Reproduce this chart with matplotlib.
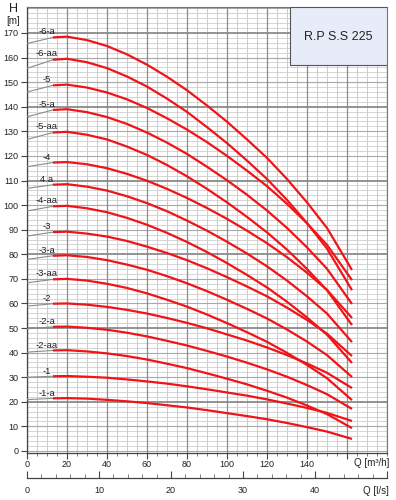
import matplotlib
matplotlib.use("Agg")
import matplotlib.pyplot as plt
from matplotlib.patches import Rectangle
from matplotlib.ticker import MultipleLocator

plt.rcParams["font.family"] = ["Liberation Sans", "DejaVu Sans"]

# flow points (m3/h); first segment (0 -> 13) is drawn grey, rest red
Q = [0, 13, 20, 30, 40, 50, 60, 70, 80, 90, 100, 110, 120, 130, 140, 150, 162.5]

LABELS = ["-6-a", "-6-aa", "-5", "-5-a", "-5-aa", "-4", "4 a", "-4-aa",
          "-3", "-3-a", "-3-aa", "-2", "-2-a", "-2-aa", "-1", "-1-a"]

H_6a  = [165.7, 168.2, 168.5, 167.1, 164.7, 161.3, 157.1, 152.2, 146.7, 140.5, 133.9, 126.7, 119.2, 110.6, 101.1, 90.7, 73.6]
H_6aa = [155.6, 159.1, 159.5, 158.1, 155.7, 152.3, 148.2, 143.3, 137.9, 131.7, 125.2, 118.1, 110.6, 102.1, 92.7, 82.3, 65.4]
H_5   = [146.0, 148.7, 149.0, 147.8, 145.8, 143.0, 139.5, 135.3, 130.7, 125.6, 120.0, 114.0, 107.7, 100.5, 92.6, 83.8, 69.5]
H_5a  = [135.9, 138.7, 139.0, 137.8, 135.8, 133.0, 129.5, 125.4, 120.8, 115.6, 110.1, 104.2, 97.8, 90.7, 82.8, 74.1, 59.8]
H_5aa = [126.7, 129.5, 129.8, 128.6, 126.7, 123.8, 120.4, 116.3, 111.7, 106.6, 101.1, 95.2, 88.9, 81.9, 74.0, 65.4, 51.2]
H_4   = [115.6, 117.3, 117.5, 116.6, 115.0, 112.7, 109.9, 106.6, 102.9, 98.8, 94.4, 89.6, 84.5, 78.8, 72.5, 65.5, 54.1]
H_4a  = [106.8, 108.3, 108.5, 107.5, 105.9, 103.6, 100.8, 97.5, 93.7, 89.6, 85.1, 80.3, 75.1, 69.3, 62.9, 55.9, 44.3]
H_4aa = [97.6, 99.5, 99.7, 98.7, 97.1, 94.8, 92.0, 88.7, 85.0, 80.9, 76.4, 71.6, 66.5, 60.7, 54.3, 47.3, 35.8]
H_3   = [87.4, 89.0, 89.2, 88.4, 87.2, 85.4, 83.1, 80.5, 77.6, 74.3, 70.7, 66.9, 62.9, 58.3, 53.3, 47.7, 38.6]
H_3a  = [77.9, 79.4, 79.6, 78.9, 77.6, 75.8, 73.7, 71.1, 68.2, 65.0, 61.5, 57.8, 53.9, 49.4, 44.5, 39.0, 30.1]
H_3aa = [68.4, 69.8, 70.0, 69.3, 68.0, 66.3, 64.1, 61.5, 58.7, 55.5, 52.0, 48.3, 44.4, 39.9, 35.0, 29.6, 20.7]
H_2   = [58.9, 59.9, 60.0, 59.5, 58.6, 57.4, 55.9, 54.1, 52.1, 49.9, 47.4, 44.9, 42.1, 39.0, 35.6, 31.8, 25.6]
H_2a  = [49.7, 50.5, 50.6, 50.1, 49.3, 48.1, 46.6, 44.8, 42.9, 40.7, 38.4, 35.9, 33.2, 30.2, 26.8, 23.1, 17.1]
H_2aa = [40.2, 40.9, 41.0, 40.5, 39.7, 38.6, 37.2, 35.5, 33.7, 31.6, 29.4, 27.1, 24.5, 21.7, 18.5, 15.0, 9.3]
H_1   = [30.0, 30.4, 30.5, 30.2, 29.8, 29.1, 28.3, 27.4, 26.3, 25.1, 23.8, 22.5, 21.0, 19.3, 17.5, 15.5, 12.2]
H_1a  = [20.9, 21.4, 21.5, 21.3, 20.8, 20.2, 19.5, 18.6, 17.7, 16.6, 15.4, 14.2, 12.9, 11.4, 9.7, 7.9, 4.9]

CURVES = [H_6a, H_6aa, H_5, H_5a, H_5aa, H_4, H_4a, H_4aa,
          H_3, H_3a, H_3aa, H_2, H_2a, H_2aa, H_1, H_1a]
PEAKS = [max(h) for h in CURVES]

MODEL = "R.P S.S 225"
QX_TICKS = [0, 20, 40, 60, 80, 100, 120, 140, 160]
QX_LABELS = ["0", "20", "40", "60", "80", "100", "120", "140", ""]
LS_TICKS = [0, 10, 20, 30, 40, 50]
LS_LABELS = ["0", "10", "20", "30", "40", ""]

W, H = 396, 500
fig = plt.figure(figsize=(W / 100, H / 100), dpi=100)
fig.patch.set_facecolor("white")

# main chart: x pixel 27..387 for 0..180, y pixel 451 = 0 m, 2.459 px/m
ylo, yhi = -1.0, 180.5
px_per_m = 2.459
bot_px = 451 + (0 - ylo) * px_per_m
top_px = 451 - yhi * px_per_m
ax = fig.add_axes([27 / W, 1 - bot_px / H, 360 / W, (bot_px - top_px) / H])
ax.set_xlim(0, 180)
ax.set_ylim(ylo, yhi)

# grid
for x in range(0, 181, 5):
    if x % 20 == 0:
        ax.axvline(x, color="#8c8c8c", lw=0.9, zorder=1)
    else:
        ax.axvline(x, color="#c4c4c4", lw=0.6, zorder=0.5)
for y in range(0, 181, 2):
    if y % 30 == 20:
        ax.axhline(y, color="#8a8a8a", lw=1.3, zorder=1)
    elif y % 10 == 0:
        ax.axhline(y, color="#a8a8a8", lw=0.8, zorder=0.8)
    else:
        ax.axhline(y, color="#cfcfcf", lw=0.6, zorder=0.5)

# curves
for lab, h, pk in zip(LABELS, CURVES, PEAKS):
    ax.plot(Q[:2], h[:2], color="#8a8a8a", lw=0.8, zorder=3)
    ax.plot(Q[1:], h[1:], color="#f01418", lw=1.6, zorder=4,
            solid_capstyle="butt")
    ax.text(10, pk + 2.0, lab, fontsize=6.8, ha="center", va="center",
            color="#222222", zorder=5)

# model box
ax.add_patch(Rectangle((131.5, 157), 48.5, 23.5, facecolor="#e8ecf8",
                       edgecolor="#555555", lw=0.8, zorder=6))
ax.text(155.5, 168.5, MODEL, fontsize=9, ha="center", va="center",
        color="#222222", zorder=7)

for s in ["top", "right"]:
    ax.spines[s].set_color("#777777")
    ax.spines[s].set_linewidth(0.8)
for s in ["left", "bottom"]:
    ax.spines[s].set_color("#444444")
    ax.spines[s].set_linewidth(0.9)

ax.set_xticks(QX_TICKS)
ax.set_xticklabels(QX_LABELS)
ax.xaxis.set_minor_locator(MultipleLocator(5))
ax.set_yticks(range(0, 171, 10))
ax.tick_params(axis="x", which="major", length=4, width=0.8, color="#444444",
               labelsize=6.5, pad=1, labelcolor="#222222")
ax.tick_params(axis="x", which="minor", length=2.5, width=0.6, color="#666666")
ax.tick_params(axis="y", which="major", length=4, width=0.8, color="#444444",
               labelsize=6.5, pad=2, labelcolor="#222222")

fig.text(13 / W, 1 - 9 / H, "H", fontsize=9, ha="center", va="center",
         color="#222222")
fig.text(13 / W, 1 - 21 / H, "[m]", fontsize=7, ha="center", va="center",
         color="#222222")
fig.text(389 / W, 1 - 463 / H, "Q [m³/h]", fontsize=7, ha="right",
         va="center", color="#222222")

# secondary flow scale in l/s
ax2 = fig.add_axes([27 / W, 1 - 478 / H, 360 / W, 0.0001])
ax2.set_xlim(0, 50)
ax2.set_yticks([])
for s in ["top", "left", "right"]:
    ax2.spines[s].set_visible(False)
ax2.spines["bottom"].set_color("#444444")
ax2.spines["bottom"].set_linewidth(0.9)
ax2.set_xticks(LS_TICKS)
ax2.set_xticklabels(LS_LABELS)
ax2.xaxis.set_minor_locator(MultipleLocator(2))
ax2.tick_params(axis="x", which="major", direction="in", length=5, width=0.8,
                color="#444444", labelsize=6.5, pad=6, labelcolor="#222222")
ax2.tick_params(axis="x", which="minor", direction="in", length=3, width=0.6,
                color="#666666")
fig.text(389 / W, 1 - 491 / H, "Q [l/s]", fontsize=7, ha="right",
         va="center", color="#222222")

fig.savefig("out.png", dpi=100)
